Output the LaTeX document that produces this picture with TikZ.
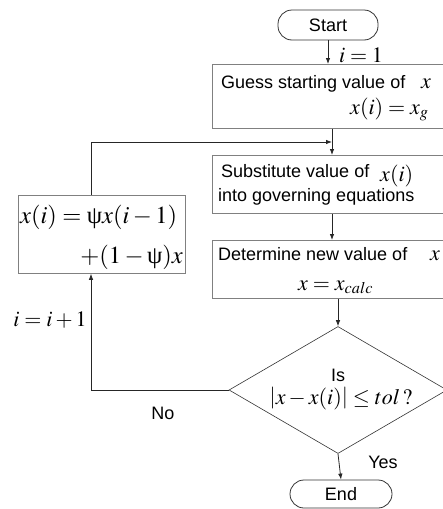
\documentclass[tikz,border=0pt]{standalone}
\usepackage{mathptmx}
\usepackage[no-math]{fontspec}
\setmainfont{Liberation Sans}
\newfontfamily\tnr{Liberation Serif}
\newcommand\upsi{\mbox{\tnr ψ}}
\usetikzlibrary{arrows.meta,shapes.geometric}
\begin{document}
\begin{tikzpicture}[x=1pt,y=-1pt]
\tikzset{
 box/.style={draw=gray, line width=0.8pt, anchor=north west, inner sep=0pt},
 term/.style={draw=black!80, line width=0.8pt, rounded corners=14pt, inner sep=0pt, font=\fontsize{18}{20}\selectfont},
 txt/.style={inner sep=0pt, font=\fontsize{18}{20}\selectfont},
 mtxt/.style={inner sep=0pt, font=\fontsize{22}{24}\selectfont},
 btxt/.style={inner sep=0pt, font=\fontsize{24.5}{26}\selectfont},
 conn/.style={line width=0.8pt, draw=black!85},
 arr/.style={conn, -{Latex[length=6pt,width=4.5pt]}},
}
\useasboundingbox (0,0) rectangle (443,509);
\clip (0,0) rectangle (443,509);
% terminals
\node[term, minimum width=100pt, minimum height=30pt] (start) at (328,25) {Start};
\node[term, minimum width=102pt, minimum height=28pt] (end) at (341,494) {End};
% box 1
\node[box, minimum width=250pt, minimum height=64pt] (b1) at (212,64) {};
\node[txt, anchor=base west] (g1) at (221,88) {Guess starting value of};
\node[mtxt, anchor=base west] (g2) at (421,88) {$x$};
\node[mtxt, anchor=base west] (g3) at (350,114) {$x(i)=x_g$};
% box 2
\node[box, minimum width=250pt, minimum height=58pt] (b2) at (212,155) {};
\node[txt, anchor=base west] (s1) at (221,177) {Substitute value of};
\node[mtxt, anchor=base west] (s2) at (380,181) {$x(i)$};
\node[txt, anchor=base west] (s3) at (218,201) {into governing equations};
% box 3
\node[box, minimum width=250pt, minimum height=58pt] (b3) at (212,240) {};
\node[txt, anchor=base west] (d1) at (218,260) {Determine new value of};
\node[mtxt, anchor=base west] (d2) at (430,260) {$x$};
\node[mtxt, anchor=base west] (d3) at (298,290) {$x=x_{calc}$};
% left box
\node[box, minimum width=167pt, minimum height=78pt] (lb) at (18,195) {};
\node[btxt, anchor=base west] (u1) at (20,223) {$x(i)=\upsi x(i-1)$};
\node[btxt, anchor=base east] (u2) at (183,263) {$+(1-\upsi)x$};
% decision
\node[draw=black!80, line width=0.6pt, diamond, minimum width=218pt, minimum height=127pt, inner sep=0pt] (dia) at (338,390) {};
\node[txt, anchor=base] (q1) at (338,381) {Is};
\node[mtxt, anchor=base] (q2) at (341,404) {$\left|x-x(i)\right|\le tol\,?$};
% labels
\node[mtxt] (l1) at (361,55) {$i=1$};
\node[mtxt] (l2) at (50,320) {$i=i+1$};
\node[txt] (yes) at (383,462) {Yes};
\node[txt] (no) at (163,413) {No};
% connectors
\coordinate (sp) at (332,142);
\coordinate (lc) at (91,390);
\coordinate (tc) at (91,142);
\draw[arr] (start.south) -- (start.south |- b1.north);
\draw[arr] (b1.south -| sp) -- (b2.north -| sp);
\draw[arr] (b2.south -| sp) -- (b3.north -| sp);
\draw[arr] (b3.south -| dia.north) -- (dia.north);
\draw[arr] (dia.south) -- (end.north);
\draw[arr] (dia.west) -- (lc) -- (lc |- lb.south);
\draw[conn] (lb.north -| tc) -- (tc);
\draw[arr] (tc) -- (sp);
\end{tikzpicture}
\end{document}
